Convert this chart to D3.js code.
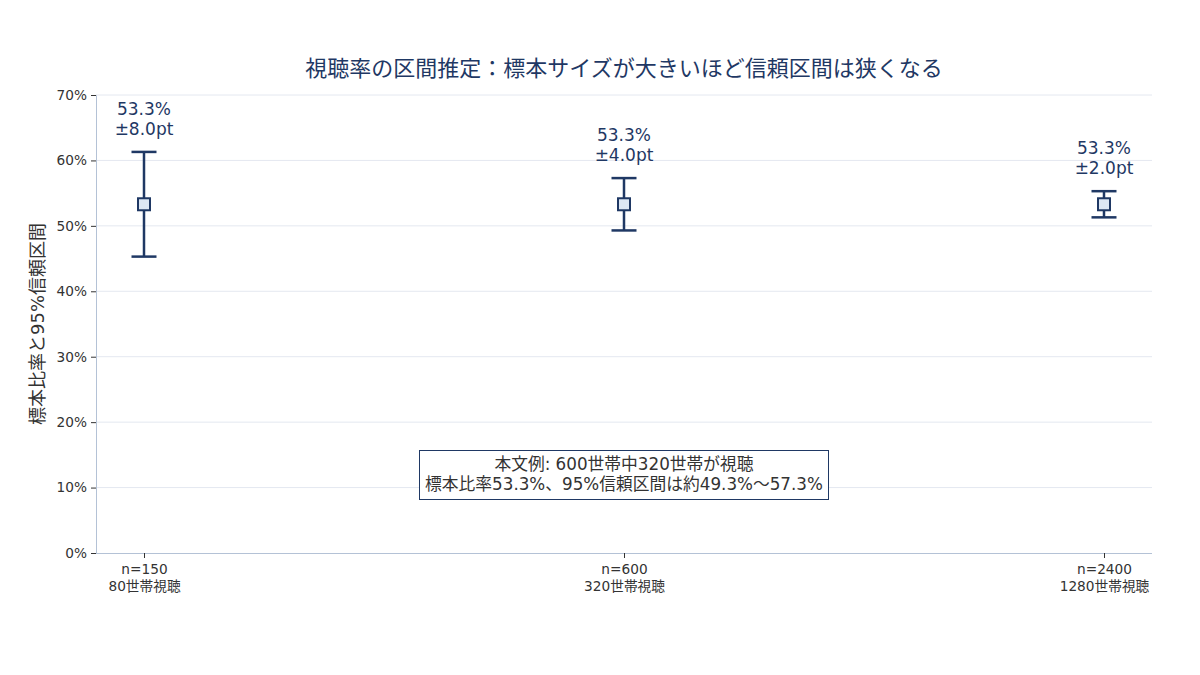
<!DOCTYPE html>
<html><head><meta charset="utf-8">
<script src="https://cdn.jsdelivr.net/npm/d3@7"></script>
<style>
body{margin:0;background:#fff;}
svg, svg text{font-family:"DejaVu Sans","Noto Sans CJK JP",sans-serif;}
</style></head>
<body><svg id="c" width="1200" height="675"></svg>
<script>
const categories = ["n=150", "n=600", "n=2400"];
const subLabels = ["80世帯視聴", "320世帯視聴", "1280世帯視聴"];
const proportions = [53.3, 53.3, 53.3];
const margins = [8.0, 4.0, 2.0];
const yTicks = [0, 10, 20, 30, 40, 50, 60, 70];
const titleText = "視聴率の区間推定：標本サイズが大きいほど信頼区間は狭くなる";
const yLabel = "標本比率と95%信頼区間";
const noteLines = ["本文例: 600世帯中320世帯が視聴", "標本比率53.3%、95%信頼区間は約49.3%〜57.3%"];

const FONT = "'DejaVu Sans','Noto Sans CJK JP',sans-serif";
const navy = "#1f3864";
const svg = d3.select("#c");
const L = 96, R = 1152, T = 95, B = 553;
const x = d3.scalePoint().domain(categories).range([L, R]).padding(0.1);
const y = d3.scaleLinear().domain([0, 70]).range([B, T]);

// grid
svg.append("g").selectAll("line").data(yTicks.filter(d => d > 0)).join("line")
  .attr("x1", L).attr("x2", R).attr("y1", d => y(d)).attr("y2", d => y(d))
  .attr("stroke", "#e4e8f0").attr("stroke-width", 1);

// y axis
const ya = svg.append("g").attr("transform", `translate(${L},0)`)
  .call(d3.axisLeft(y).tickValues(yTicks).tickFormat(d => d + "%").tickSize(5).tickPadding(4));
ya.select(".domain").attr("stroke", "#b4c2d6");
ya.selectAll(".tick line").attr("stroke", "#333");
ya.selectAll(".tick text").attr("fill", "#333").attr("font-size", 13.7).attr("font-family", FONT);

// x axis
const xa = svg.append("g").attr("transform", `translate(0,${B})`)
  .call(d3.axisBottom(x).tickSize(5).tickPadding(3).tickFormat(""));
xa.select(".domain").attr("stroke", "#b4c2d6").attr("d", `M${L},0.5H${R}`);
xa.selectAll(".tick line").attr("stroke", "#333");
xa.selectAll(".tick").each(function(d, i) {
  const t = d3.select(this).append("text").attr("fill", "#333").attr("font-size", 13.7)
    .attr("font-family", FONT).attr("text-anchor", "middle");
  t.append("tspan").attr("x", 0).attr("y", 21).text(d);
  t.append("tspan").attr("x", 0).attr("y", 38).text(subLabels[i]);
});

// error bars
const data = categories.map((c, i) => ({c, p: proportions[i], m: margins[i]}));
const g = svg.append("g");
const capW = 12.5;
data.forEach(d => {
  const cx = x(d.c);
  g.append("line").attr("x1", cx).attr("x2", cx).attr("y1", y(d.p + d.m)).attr("y2", y(d.p - d.m))
    .attr("stroke", navy).attr("stroke-width", 2.5);
  [d.p + d.m, d.p - d.m].forEach(v => g.append("line")
    .attr("x1", cx - capW).attr("x2", cx + capW).attr("y1", y(v)).attr("y2", y(v))
    .attr("stroke", navy).attr("stroke-width", 2.5));
  g.append("rect").attr("x", cx - 6).attr("y", y(d.p) - 6).attr("width", 12).attr("height", 12)
    .attr("fill", "#dce7f4").attr("stroke", navy).attr("stroke-width", 2);
  const top = y(d.p + d.m);
  g.append("text").attr("x", cx).attr("y", top - 37).attr("text-anchor", "middle")
    .attr("fill", navy).attr("font-size", 17).attr("font-family", FONT).text(d.p.toFixed(1) + "%");
  g.append("text").attr("x", cx).attr("y", top - 17).attr("text-anchor", "middle")
    .attr("fill", navy).attr("font-size", 17).attr("font-family", FONT).text("±" + d.m.toFixed(1) + "pt");
});

// title
svg.append("text").attr("x", (L + R) / 2).attr("y", 76).attr("text-anchor", "middle")
  .attr("fill", navy).attr("font-size", 22).attr("font-family", FONT).text(titleText);

// y label
svg.append("text").attr("transform", `translate(44,${(T + B) / 2}) rotate(-90)`)
  .attr("text-anchor", "middle").attr("fill", "#333").attr("font-size", 18)
  .attr("font-family", FONT).text(yLabel);

// note box
const nb = svg.append("g");
const nx = (L + R) / 2;
nb.append("rect").attr("x", 419.5).attr("y", 450.5).attr("width", 409).attr("height", 49)
  .attr("fill", "#fff").attr("stroke", navy).attr("stroke-width", 1);
noteLines.forEach((t, i) => nb.append("text").attr("x", nx).attr("y", 470 + i * 20)
  .attr("text-anchor", "middle").attr("fill", "#333").attr("font-size", 16.75)
  .attr("font-family", FONT).text(t));
</script></body></html>
